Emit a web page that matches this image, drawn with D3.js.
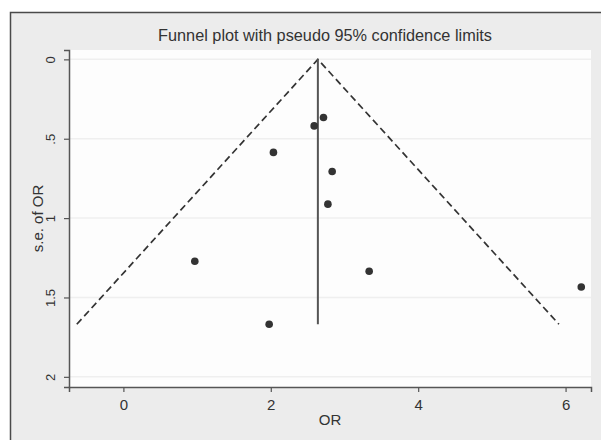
<!DOCTYPE html>
<meta charset="utf-8">
<script src="https://d3js.org/d3.v7.min.js"></script>
<style>
  body { margin: 0; background: #fff; }
  text { font-family: "Liberation Sans", Arial, sans-serif; fill: #333; }
</style>
<div id="my_dataviz"></div>
<script>
  // study odds ratios and their standard errors
  var orValues = [2.715, 2.589, 2.036, 2.833, 2.775, 0.969, 3.335, 6.213, 1.978];
  var seValues = [0.366, 0.419, 0.586, 0.706, 0.912, 1.272, 1.335, 1.434, 1.669];
  // pooled estimate (vertical line of the funnel)
  var pooled = 2.639;
  var xTicks = [0, 2, 4, 6];
  var yTicks = [0, 0.5, 1, 1.5, 2];
  var yTickLabels = ["0", ".5", "1", "1.5", "2"];

  var W = 601, H = 440;
  var plot = { left: 69, right: 591, top: 50, bottom: 387 };

  var svg = d3.select("#my_dataviz").append("svg").attr("width", W).attr("height", H);

  // outer frame
  svg.append("rect").attr("x", 10.5).attr("y", 12.5).attr("width", W).attr("height", H)
    .attr("fill", "#ececec").attr("stroke", "#4a4a4a").attr("stroke-width", 1.5);
  // plot region
  svg.append("rect").attr("x", plot.left).attr("y", plot.top)
    .attr("width", plot.right - plot.left).attr("height", plot.bottom - plot.top)
    .attr("fill", "#fdfdfd");

  var x = d3.scaleLinear().domain([-0.738, 6.345]).range([plot.left, plot.right]);
  var y = d3.scaleLinear().domain([-0.059, 2.064]).range([plot.top, plot.bottom]);

  // grid lines
  svg.append("g").selectAll("line").data(yTicks).enter().append("line")
    .attr("x1", plot.left).attr("x2", plot.right)
    .attr("y1", function(d) { return y(d); }).attr("y2", function(d) { return y(d); })
    .attr("stroke", "#efefef").attr("stroke-width", 1.5);

  // axes
  var xAxis = svg.append("g").attr("transform", "translate(0," + plot.bottom + ")")
    .call(d3.axisBottom(x).tickValues(xTicks).tickSize(5).tickPadding(7).tickFormat(d3.format("d")));
  var yAxis = svg.append("g").attr("transform", "translate(" + plot.left + ",0)")
    .call(d3.axisLeft(y).tickValues(yTicks).tickSize(5).tickPadding(6)
      .tickFormat(function(d, i) { return yTickLabels[i]; }));

  [xAxis, yAxis].forEach(function(a) {
    a.select(".domain").attr("stroke", "#555").attr("stroke-width", 1.5);
    a.selectAll(".tick line").attr("stroke", "#555").attr("stroke-width", 1.2);
    a.selectAll(".tick text").attr("fill", "#333");
  });
  xAxis.selectAll(".tick text").style("font-size", "15px");
  // y tick labels rotated like Stata
  yAxis.selectAll(".tick text")
    .style("font-size", "13px")
    .attr("transform", "rotate(-90)")
    .attr("x", 0).attr("y", -14)
    .attr("dy", "0")
    .attr("text-anchor", "middle");

  // funnel
  var maxSe = d3.max(seValues);
  var z = 1.96;
  var funnel = [[pooled - z * maxSe, maxSe], [pooled, 0], [pooled + z * maxSe, maxSe]];
  svg.append("path")
    .attr("d", d3.line().x(function(d) { return x(d[0]); }).y(function(d) { return y(d[1]); })(funnel))
    .attr("fill", "none").attr("stroke", "#333").attr("stroke-width", 1.7)
    .attr("stroke-dasharray", "7,4");
  svg.append("line")
    .attr("x1", x(pooled)).attr("x2", x(pooled))
    .attr("y1", y(0)).attr("y2", y(maxSe))
    .attr("stroke", "#555").attr("stroke-width", 2);

  // study points
  svg.append("g").selectAll("circle").data(orValues).enter().append("circle")
    .attr("cx", function(d) { return x(d); })
    .attr("cy", function(d, i) { return y(seValues[i]); })
    .attr("r", 3.8).attr("fill", "#333");

  // title and axis titles
  svg.append("text").attr("x", 325).attr("y", 41)
    .attr("text-anchor", "middle").style("font-size", "16.3px")
    .text("Funnel plot with pseudo 95% confidence limits");
  svg.append("text").attr("x", (plot.left + plot.right) / 2).attr("y", 425)
    .attr("text-anchor", "middle").style("font-size", "15px").text("OR");
  svg.append("text")
    .attr("transform", "translate(43," + ((plot.top + plot.bottom) / 2) + ") rotate(-90)")
    .attr("text-anchor", "middle").style("font-size", "15px").text("s.e. of OR");
</script>
